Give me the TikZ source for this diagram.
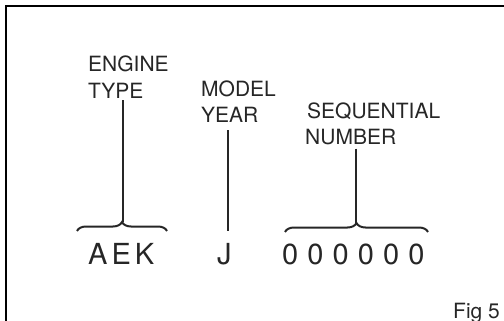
\documentclass[tikz,border=0pt]{standalone}
\usepackage{fontspec}
\setmainfont{TeX Gyre Heros}
\usetikzlibrary{decorations.pathreplacing}
\tikzset{
  lbl/.style={inner sep=0pt, anchor=base west, align=left, font=\fontsize{21}{27}\selectfont, text=black!85},
  code/.style={inner sep=0pt, anchor=base west, font=\fontsize{29}{30}\selectfont, text=black!85},
  lead/.style={line width=1.5pt, black!85},
  bracestyle/.style={line width=2pt, black!85, decorate, decoration={brace, amplitude=9pt, aspect=0.5}},
}
\begin{document}
\begin{tikzpicture}[x=1pt,y=-1pt]
\useasboundingbox (0,0) rectangle (504,321);
\coordinate (fc) at (6,6);
\coordinate (fb) at (6,322);
\coordinate (fr) at (505,6);
\draw[line width=2pt] (fb) -- (fc) -- (fr);

\node[lbl] (eng) at (88,99) {ENGINE\\TYPE};
\node[lbl] (mod) at (201,123) {MODEL\\YEAR};
\node[lbl] (seq) at (305,145) {\hspace{2pt}SEQUENTIAL\\NUMBER};

\node[code] (aek) at (88,264) {A\hspace{4pt}E\hspace{4pt}K};
\node[code] (j) at (217,264) {J};
\node[code] (num) at (282,264) {0\hspace{9.1pt}0\hspace{9.1pt}0\hspace{9.1pt}0\hspace{9.1pt}0\hspace{9.1pt}0};
\node[lbl, anchor=base west] (fig) at (453,318) {Fig 5};

% braces
\coordinate (aL) at (77,231);
\coordinate (aR) at (167,231);
\coordinate (aT) at (123,222);
\coordinate (nL) at (285,232);
\coordinate (nR) at (428,232);
\coordinate (nT) at (356,223);
\coordinate (jT) at (228,231);
\draw[bracestyle] (aL) -- (aR);
\draw[bracestyle] (nL) -- (nR);

% leaders
\draw[lead] ([yshift=-1pt]eng.south -| aT) -- (aT);
\draw[lead] ([yshift=-7pt]mod.south -| jT) -- (jT);
\draw[lead] ([yshift=-3pt]seq.south -| nT) -- (nT);
\end{tikzpicture}
\end{document}
